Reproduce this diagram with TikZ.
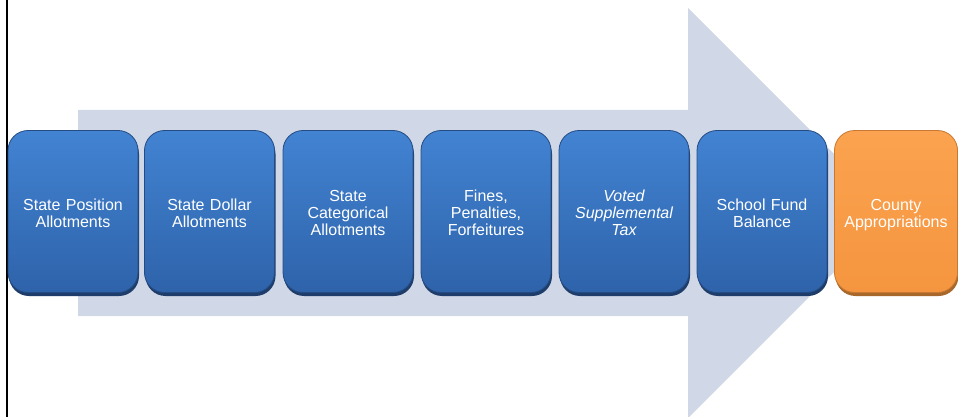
\documentclass[tikz,border=0pt]{standalone}
\usepackage{fontspec}
\setmainfont{Liberation Sans}
\definecolor{arrowfill}{HTML}{D0D8E7}
\definecolor{bluetop}{HTML}{4283D2}
\definecolor{bluebot}{HTML}{2E63AA}
\definecolor{bluedark}{HTML}{1E3D6A}
\definecolor{orangetop}{HTML}{FBA350}
\definecolor{orangebot}{HTML}{F5953F}
\definecolor{orangedark}{HTML}{A8672B}
\tikzset{
  card/.style={rounded corners=20pt, minimum width=130pt, minimum height=162pt,
    text width=128pt, align=center, inner sep=0pt, text=white,
    font=\fontsize{16}{17}\selectfont,
    execute at begin node={\rule{0pt}{19.5pt}},
    execute at end node={\strut}},
  bluecard/.style={card, top color=bluetop, bottom color=bluebot,
    preaction={fill=bluedark, transform canvas={yshift=-3.5pt, xshift=1pt}},
    postaction={draw=bluedark!60!bluebot, line width=0.8pt}},
  orangecard/.style={card, top color=orangetop, bottom color=orangebot,
    preaction={fill=orangedark, transform canvas={yshift=-3.5pt, xshift=1pt}},
    postaction={draw=orangedark!60!orangebot, line width=0.8pt}},
}
\begin{document}
\begin{tikzpicture}[x=1pt, y=-1pt]
\useasboundingbox (0,0) rectangle (958,417);
\clip (0,0) rectangle (958,417);
\fill[white] (0,0) rectangle (958,417);
% big background arrow
\fill[arrowfill] (78,110) -- (688,110) -- (688,8) -- (893,213) -- (688,418)
  -- (688,316) -- (78,316) -- cycle;
% left rule
\draw[black, line width=2.4pt] (7,-2) -- (7,420);
% boxes
\node[bluecard] (b1) at (73,211.5) {State Position\\Allotments};
\node[bluecard] (b2) at (209.5,211.5) {State Dollar\\Allotments};
\node[bluecard] (b3) at (348,211.5) {State\\Categorical\\Allotments};
\node[bluecard] (b4) at (486,211.5) {Fines,\\Penalties,\\Forfeitures};
\node[bluecard] (b5) at (624,211.5) {\itshape Voted\\\itshape Supplemental\\\itshape Tax};
\node[bluecard] (b6) at (762,211.5) {School Fund\\Balance};
\node[orangecard, minimum width=123pt, text width=123pt] (b7) at (896,211.5) {County\\Appropriations};
\end{tikzpicture}
\end{document}
